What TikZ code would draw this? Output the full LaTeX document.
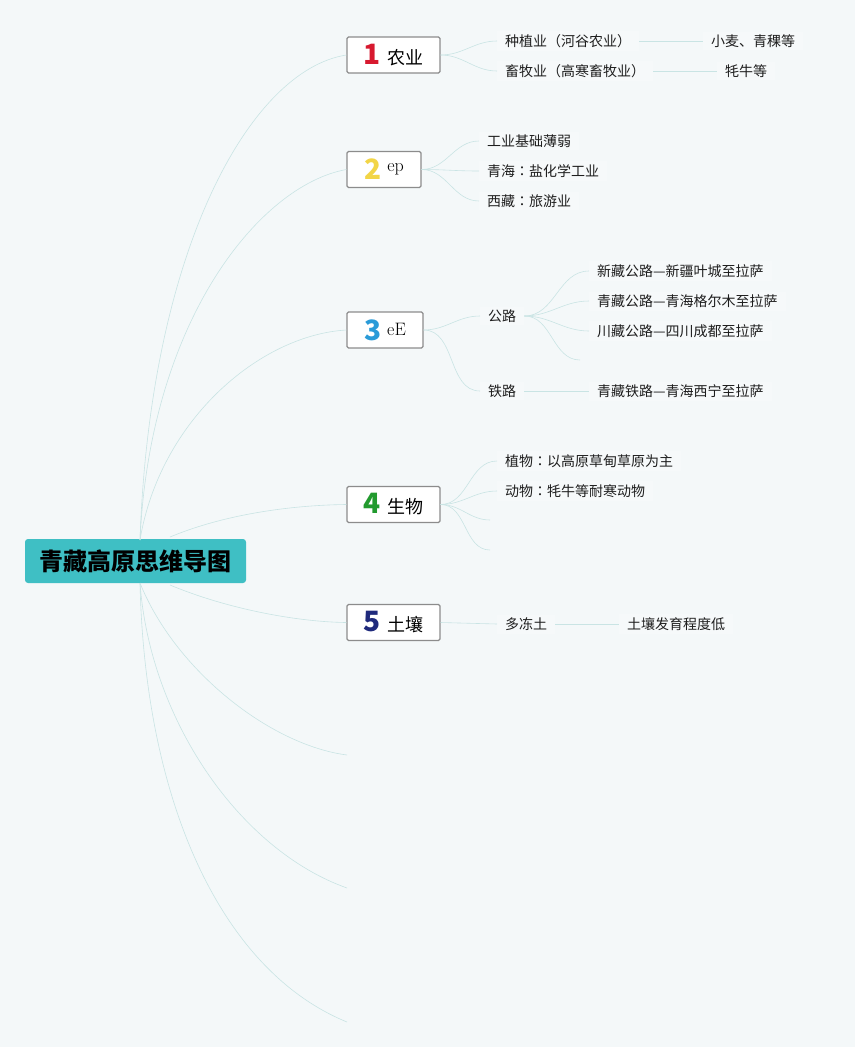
\documentclass[tikz,border=0pt]{standalone}
\usepackage{fontspec}
\newfontfamily\cjk{Noto Sans CJK SC}
\newfontfamily\cjktc{Noto Sans CJK TC}

\definecolor{bgcol}{HTML}{F4F8F9}
\definecolor{rootcol}{HTML}{3FBFC4}
\definecolor{boxgray}{HTML}{8C8C8C}
\definecolor{linkcol}{HTML}{C9E4E4}
\definecolor{txtcol}{HTML}{1E1E1E}
\definecolor{numred}{HTML}{D7192F}
\definecolor{numyellow}{HTML}{F2D546}
\definecolor{numblue}{HTML}{2A9BD8}
\definecolor{numgreen}{HTML}{229A2E}
\definecolor{numnavy}{HTML}{1F2A7C}

\newcommand{\topicnum}[2]{{\cjk\bfseries\fontsize{28}{28}\selectfont\textcolor{#1}{#2}}\hspace{6pt}}
\newcommand{\cjkcolon}{{\cjktc ：}}

\tikzset{
  root/.style={fill=rootcol, rounded corners=3pt, minimum width=221pt, minimum height=44pt,
    font=\cjk\bfseries\fontsize{24}{24}\selectfont},
  topic/.style={draw=boxgray, fill=white, line width=1.2pt, rounded corners=1.5pt,
    minimum width=93pt, minimum height=36pt, inner sep=0pt, font=\cjk\fontsize{18}{18}\selectfont},
  leaf/.style={anchor=west, inner xsep=8pt, inner ysep=3pt, fill=white!20!bgcol,
    font=\cjk\fontsize{14}{14}\selectfont, text=txtcol},
  link/.style={draw=linkcol, line width=0.6pt},
}

\begin{document}
\begin{tikzpicture}[x=1pt,y=-1pt]
    \fill[bgcol] (0,0) rectangle (855,1047);
    \useasboundingbox (0,0) rectangle (855,1047);

    % centre and main topics
    \node[root] (root) at (135.5,561) {青藏高原思维导图};
    \node[topic] (b1) at (393.5,55) {\topicnum{numred}{1}农业};
    \node[topic, minimum width=74pt] (b2) at (384,169.5) {\topicnum{numyellow}{2}\raisebox{8pt}{\rmfamily ep}};
    \node[topic, minimum width=76pt] (b3) at (385,330) {\topicnum{numblue}{3}\raisebox{5pt}{\rmfamily eE}};
    \node[topic] (b4) at (393.5,504.5) {\topicnum{numgreen}{4}生物};
    \node[topic] (b5) at (393.5,622.5) {\topicnum{numnavy}{5}土壤};

    \coordinate (rt) at (140,540);
    \coordinate (rb) at (140,583);
    \coordinate (rt4) at (170,537);
    \coordinate (rb5) at (170,585);
    \coordinate (e1) at (347,755);
    \coordinate (e2) at (347,888);
    \coordinate (e3) at (347,1022);

    \draw[link] (rt) .. controls (150,250) and (250,70) .. (b1.west);
    \draw[link] (rt) .. controls (150,320) and (260,185) .. (b2.west);
    \draw[link] (rt) .. controls (160,420) and (260,335) .. (b3.west);
    \draw[link] (rt4) .. controls (230,512) and (300,505) .. (b4.west);
    \draw[link] (rb5) .. controls (230,610) and (300,622) .. (b5.west);
    \draw[link] (rb) .. controls (175,670) and (270,745) .. (e1);
    \draw[link] (rb) .. controls (150,720) and (240,850) .. (e2);
    \draw[link] (rb) .. controls (145,800) and (220,970) .. (e3);

    % 1 农业
    \node[leaf] (l11) at (497,41) {种植业（河谷农业）};
    \node[leaf] (l12) at (703,41) {小麦、青稞等};
    \node[leaf] (l21) at (497,71) {畜牧业（高寒畜牧业）};
    \node[leaf] (l22) at (717,71) {牦牛等};
    \draw[link] (b1.east) to[out=0,in=180] (l11.west);
    \draw[link] (b1.east) to[out=0,in=180] (l21.west);
    \draw[link] (l11.east) -- (l12.west);
    \draw[link] (l21.east) -- (l22.west);

    % 2
    \node[leaf] (m1) at (479,141) {工业基础薄弱};
    \node[leaf] (m2) at (479,171) {青海\cjkcolon 盐化学工业};
    \node[leaf] (m3) at (479,201) {西藏\cjkcolon 旅游业};
    \foreach \n in {m1,m2,m3}
        \draw[link] (b2.east) to[out=0,in=180] (\n.west);

    % 3
    \node[leaf] (gl) at (480,316) {公路};
    \node[leaf] (tl) at (480,391) {铁路};
    \node[leaf] (g1) at (589,271) {新藏公路—新疆叶城至拉萨};
    \node[leaf] (g2) at (589,301) {青藏公路—青海格尔木至拉萨};
    \node[leaf] (g3) at (589,331) {川藏公路—四川成都至拉萨};
    \coordinate (g4) at (580,360);
    \node[leaf] (t1) at (589,391) {青藏铁路—青海西宁至拉萨};
    \draw[link] (b3.east) to[out=0,in=180] (gl.west);
    \draw[link] (b3.east) to[out=0,in=180] (tl.west);
    \foreach \n in {g1.west,g2.west,g3.west,g4}
        \draw[link] (gl.east) to[out=0,in=180] (\n);
    \draw[link] (tl.east) -- (t1.west);

    % 4 生物
    \node[leaf] (s1) at (497,461) {植物\cjkcolon 以高原草甸草原为主};
    \node[leaf] (s2) at (497,491) {动物\cjkcolon 牦牛等耐寒动物};
    \coordinate (s3) at (490,520);
    \coordinate (s4) at (490,550);
    \foreach \n in {s1.west,s2.west,s3,s4}
        \draw[link] (b4.east) to[out=0,in=180] (\n);

    % 5 土壤
    \node[leaf] (d1) at (497,624) {多冻土};
    \node[leaf] (d2) at (619,624) {土壤发育程度低};
    \draw[link] (b5.east) -- (d1.west);
    \draw[link] (d1.east) -- (d2.west);
\end{tikzpicture}
\end{document}
